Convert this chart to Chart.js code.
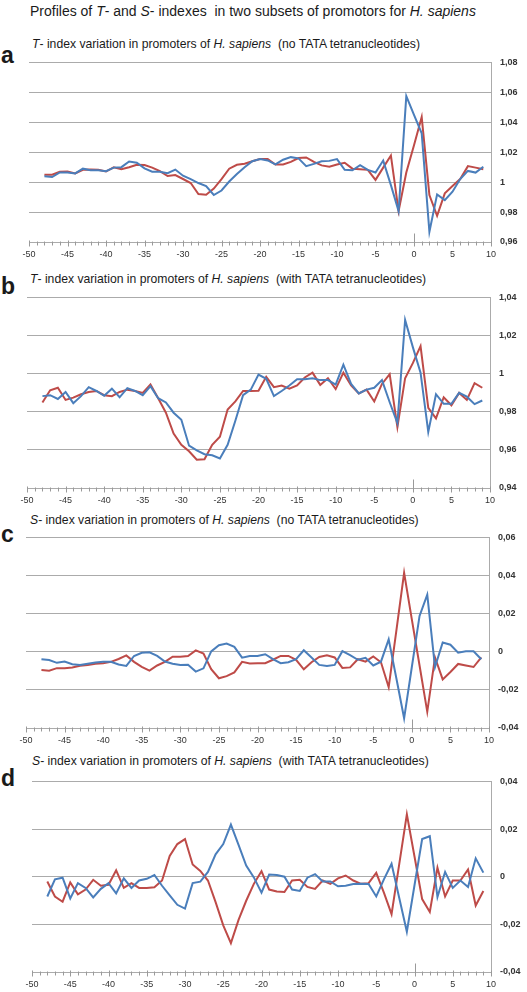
<!DOCTYPE html>
<html>
<head>
<meta charset="utf-8">
<script src="https://cdn.jsdelivr.net/npm/chart.js@4.4.0/dist/chart.umd.min.js"></script>
<style>
  body { margin: 0; background: #fff; }
  #page { position: relative; width: 527px; height: 992px; overflow: hidden; font-family: "Liberation Sans", Arial, sans-serif; color: #1a1a1a; }
  .title { position: absolute; white-space: nowrap; font-size: 14px; }
  .sub { position: absolute; white-space: nowrap; font-size: 12.2px; }
  .letter { position: absolute; font-weight: bold; font-size: 23px; left: 1px; }
  canvas { position: absolute; left: 0; }
</style>
</head>
<body>
<div id="page">
  <div class="title" style="left:30px; top:3px;">Profiles of <i>T</i>- and <i>S</i>- indexes&nbsp; in two subsets of promotors for <i>H. sapiens</i></div>

  <div class="sub" style="left:32px; top:37px;"><i>T</i>- index variation in promoters of <i>H. sapiens</i>&nbsp; (no TATA tetranucleotides)</div>
  <div class="letter" style="top:42px;">a</div>
  <canvas id="chartA"></canvas>

  <div class="sub" style="left:30px; top:272px;"><i>T</i>- index variation in promoters of <i>H. sapiens</i>&nbsp; (with TATA tetranucleotides)</div>
  <div class="letter" style="top:273px;">b</div>
  <canvas id="chartB"></canvas>

  <div class="sub" style="left:30px; top:513px;"><i>S</i>- index variation in promoters of <i>H. sapiens</i>&nbsp; (no TATA tetranucleotides)</div>
  <div class="letter" style="top:521px;">c</div>
  <canvas id="chartC"></canvas>

  <div class="sub" style="left:32px; top:754px;"><i>S</i>- index variation in promoters of <i>H. sapiens</i>&nbsp; (with TATA tetranucleotides)</div>
  <div class="letter" style="top:765px;">d</div>
  <canvas id="chartD"></canvas>
</div>

<script>
// positions relative to the transcription start
const positions = [-48, -47, -46, -45, -44, -43, -42, -41, -40, -39, -38, -37, -36, -35, -34, -33, -32, -31, -30, -29,
  -28, -27, -26, -25, -24, -23, -22, -21, -20, -19, -18, -17, -16, -15, -14, -13, -12, -11, -10, -9,
  -8, -7, -6, -5, -4, -3, -2, -1, 0, 1, 2, 3, 4, 5, 6, 7, 8, 9];

// a: T-index, no TATA
const aBlue = [1.0039, 1.0034, 1.0065, 1.0065, 1.0058, 1.009, 1.008, 1.008, 1.0073, 1.0097, 1.010, 1.0138, 1.013, 1.0092,
  1.007, 1.0069, 1.006, 1.0084, 1.0043, 1.002, 0.9994, 0.9974, 0.9914, 0.9944, 1.0004, 1.0054, 1.010, 1.014,
  1.0155, 1.0145, 1.0118, 1.015, 1.0167, 1.0159, 1.0107, 1.0122, 1.0139, 1.0142, 1.0154, 1.0082, 1.0079, 1.0114,
  1.0082, 1.0064, 1.0144, 0.998, 0.9807, 1.0575, 1.045, 1.0326, 0.9668, 0.9918, 0.988, 0.9936, 1.0021, 1.0075, 1.0064, 1.0103];
const aRed = [1.0049, 1.0049, 1.0069, 1.0071, 1.0058, 1.0082, 1.0084, 1.0082, 1.0071, 1.0099, 1.0086, 1.0099, 1.0116, 1.0114,
  1.0097, 1.0073, 1.0041, 1.0047, 1.0021, 0.9994, 0.992, 0.9916, 0.9957, 1.002, 1.009, 1.0116, 1.0123, 1.014,
  1.0154, 1.0154, 1.0118, 1.0118, 1.0135, 1.0161, 1.0165, 1.0135, 1.0112, 1.0103, 1.0118, 1.0129, 1.009, 1.0086,
  1.0082, 1.0015, 1.0097, 1.0178, 0.9807, 1.0064, 1.0247, 1.0435, 0.9914, 0.9775, 0.9925, 0.9974, 1.0021, 1.0107, 1.0097, 1.0086];

// b: T-index, with TATA
const bBlue = [0.9882, 0.9887, 0.9867, 0.9904, 0.9845, 0.9882, 0.9929, 0.9909, 0.9884, 0.9921, 0.9876, 0.9924, 0.9909, 0.9887,
  0.9934, 0.9871, 0.9849, 0.9795, 0.9758, 0.9622, 0.9597, 0.9577, 0.9572, 0.9555, 0.9627, 0.9753, 0.9887, 0.9916,
  0.9995, 0.9973, 0.9882, 0.9909, 0.9938, 0.9971, 0.9971, 0.9976, 0.9966, 0.9966, 0.9943, 1.0047, 0.9946, 0.9896,
  0.9916, 0.9926, 0.9966, 0.985, 0.9741, 1.0282, 1.0139, 1.0005, 0.9694, 0.9892, 0.9842, 0.9842, 0.9899, 0.9879, 0.984, 0.9859];
const bRed = [0.9849, 0.9913, 0.9926, 0.9862, 0.9874, 0.9892, 0.9904, 0.9909, 0.9887, 0.9882, 0.9904, 0.9916, 0.9909, 0.9899,
  0.9943, 0.9871, 0.9795, 0.9686, 0.9627, 0.9593, 0.9548, 0.9551, 0.9627, 0.9669, 0.9812, 0.9854, 0.9909, 0.9909,
  0.991, 0.9983, 0.9929, 0.9938, 0.9921, 0.9938, 0.998, 1.0005, 0.9941, 0.9976, 0.9919, 1.0005, 0.9938, 0.9896,
  0.9916, 0.9854, 0.9946, 0.9997, 0.9719, 0.9976, 1.0055, 1.0144, 0.982, 0.9765, 0.9876, 0.9834, 0.9899, 0.9862, 0.995, 0.9926];

// c: S-index, no TATA
const cBlue = [-0.0039, -0.0043, -0.0058, -0.0051, -0.0065, -0.007, -0.0063, -0.0056, -0.0053, -0.0053, -0.0067, -0.0074, -0.0022, -0.0005,
  -0.0003, -0.0022, -0.0051, -0.0063, -0.007, -0.0068, -0.0104, -0.0087, 0.0002, 0.0034, 0.0043, 0.0026, -0.0031, -0.0022,
  -0.0022, -0.0013, -0.0039, -0.006, -0.0055, -0.0039, 0.0008, -0.003, -0.0069, -0.0075, -0.0069, 0.0003, -0.0018, -0.0042,
  -0.0032, -0.0072, -0.0052, 0.0065, -0.014, -0.0349, -0.008, 0.0188, 0.030, -0.008, 0.0049, 0.0037, -0.0005, 0.0003, 0.0003, -0.0039];
const cRed = [-0.0096, -0.0099, -0.0086, -0.0086, -0.0082, -0.0074, -0.007, -0.0063, -0.006, -0.0053, -0.0038, -0.0019, -0.0053, -0.0079,
  -0.0099, -0.0072, -0.0053, -0.0026, -0.0026, -0.0022, 0.0007, -0.0009, -0.0091, -0.0139, -0.0128, -0.0108, -0.0053, -0.0062,
  -0.006, -0.006, -0.0042, -0.0022, -0.0022, -0.0042, -0.0092, -0.0055, -0.0027, -0.0018, -0.003, -0.0085, -0.0082, -0.0039,
  -0.0052, -0.0025, -0.0055, -0.0186, 0.0112, 0.0414, 0.017, -0.0072, -0.0315, -0.003, -0.0145, -0.0106, -0.0064, -0.0072, -0.008, -0.003];

// d: S-index, with TATA
const dBlue = [-0.0083, -0.0011, -0.0004, -0.0091, -0.0027, -0.0047, -0.0087, -0.0051, -0.0027, -0.007, -0.0007, -0.0047, -0.0016, -0.0009,
  0.0007, -0.0038, -0.0078, -0.0118, -0.0134, -0.0027, -0.0021, 0.002, 0.0094, 0.0137, 0.0219, 0.0134, 0.0047, -0.0003,
  -0.0067, 0.0009, 0.0007, 0, -0.0054, -0.006, -0.0004, 0.0011, -0.002, -0.002, -0.004, -0.0038, -0.0031, -0.003,
  -0.0031, -0.0083, -0.0011, 0.0054, -0.0088, -0.0231, -0.0036, 0.0158, 0.017, -0.0085, 0.002, -0.0047, -0.0016, -0.0043, 0.0077, 0.0017];
const dRed = [-0.002, -0.0083, -0.0105, -0.0024, -0.0074, -0.0054, -0.0013, -0.0038, -0.0034, 0.0027, -0.0047, -0.0027, -0.0047, -0.0047,
  -0.0044, -0.0016, 0.0087, 0.0137, 0.0158, 0.0051, 0.0024, -0.0016, -0.0107, -0.0204, -0.0279, -0.0181, -0.0101, -0.003,
  0.0023, -0.0054, -0.0062, -0.0064, -0.0016, -0.0013, -0.0043, -0.0051, -0.0016, -0.003, -0.0007, 0.0005, -0.0016, -0.003,
  -0.0027, 0.0016, -0.0067, -0.0157, 0.0052, 0.0262, 0.0085, -0.0094, -0.0148, 0.0038, -0.0083, -0.0016, -0.0016, 0.003, -0.0121, -0.006];

const BLUE = 'rgb(74, 126, 187)';
const RED = 'rgb(190, 75, 72)';
const GRID = '#ababab';
const PAD_TOP = 8, XAXIS_H = 24;

// minor ticks on the x axis and the short mark at position 0
const xTicks = {
  id: 'xTicks',
  afterDraw(chart) {
    const { ctx, chartArea } = chart;
    const xs = chart.scales.x;
    const y0 = Math.round(chartArea.bottom) + 0.5;
    ctx.save();
    ctx.strokeStyle = '#9a9a9a';
    ctx.lineWidth = 1;
    ctx.beginPath();
    for (let v = -50; v <= 10; v++) {
      const px = Math.round(xs.getPixelForValue(v)) + 0.5;
      const major = v % 5 === 0;
      ctx.moveTo(px, y0 - (major ? 2 : 1));
      ctx.lineTo(px, y0 + (major ? 4 : 3));
    }
    const p0 = Math.round(xs.getPixelForValue(0)) + 0.5;
    ctx.moveTo(p0, y0 - 9);
    ctx.lineTo(p0, y0);
    ctx.stroke();
    ctx.restore();
  }
};

function fmt(v) {
  return parseFloat(v.toFixed(2)).toString().replace('.', ',');
}

function makeChart(id, blue, red, yMin, yMax, box) {
  const cv = document.getElementById(id);
  const h = box.bottom - box.top + PAD_TOP + XAXIS_H;
  cv.style.top = (box.top - PAD_TOP) + 'px';
  cv.style.width = '527px';
  cv.style.height = h + 'px';
  cv.width = 527;
  cv.height = h;

  const line = (vals, color) => ({
    data: positions.map((x, i) => ({ x: x, y: vals[i] })),
    borderColor: color,
    borderWidth: 2,
    pointRadius: 0,
    tension: 0,
    fill: false
  });

  return new Chart(cv, {
    type: 'line',
    data: { datasets: [line(blue, BLUE), line(red, RED)] },
    options: {
      responsive: false,
      animation: false,
      layout: { padding: { left: box.left, top: PAD_TOP, right: 0, bottom: 0 } },
      plugins: { legend: { display: false }, tooltip: { enabled: false } },
      scales: {
        x: {
          type: 'linear',
          min: -50,
          max: 10,
          afterFit: (s) => { s.height = XAXIS_H; },
          ticks: {
            stepSize: 5,
            padding: 7,
            color: '#333',
            font: { family: 'Liberation Sans', size: 9 },
            maxRotation: 0,
            autoSkip: false
          },
          grid: { display: false, drawTicks: false },
          border: { display: true, color: GRID, width: 1 }
        },
        y: {
          position: 'right',
          min: yMin,
          max: yMax,
          afterFit: (s) => { s.width = 527 - box.right; },
          ticks: {
            stepSize: 0.02,
            padding: 9,
            color: '#333',
            font: { family: 'Liberation Sans', size: 9, weight: 'bold' },
            callback: (v) => fmt(v)
          },
          grid: { color: GRID, lineWidth: 1, drawTicks: false },
          border: { display: true, color: GRID, width: 1 }
        }
      }
    },
    plugins: [xTicks]
  });
}

makeChart('chartA', aBlue, aRed, 0.96, 1.08, { left: 29, right: 491, top: 56, bottom: 242 });
makeChart('chartB', bBlue, bRed, 0.94, 1.04, { left: 27, right: 490, top: 291, bottom: 488 });
makeChart('chartC', cBlue, cRed, -0.04, 0.06, { left: 26, right: 489, top: 531, bottom: 728 });
makeChart('chartD', dBlue, dRed, -0.04, 0.04, { left: 32, right: 491, top: 775, bottom: 972 });
</script>
</body>
</html>
